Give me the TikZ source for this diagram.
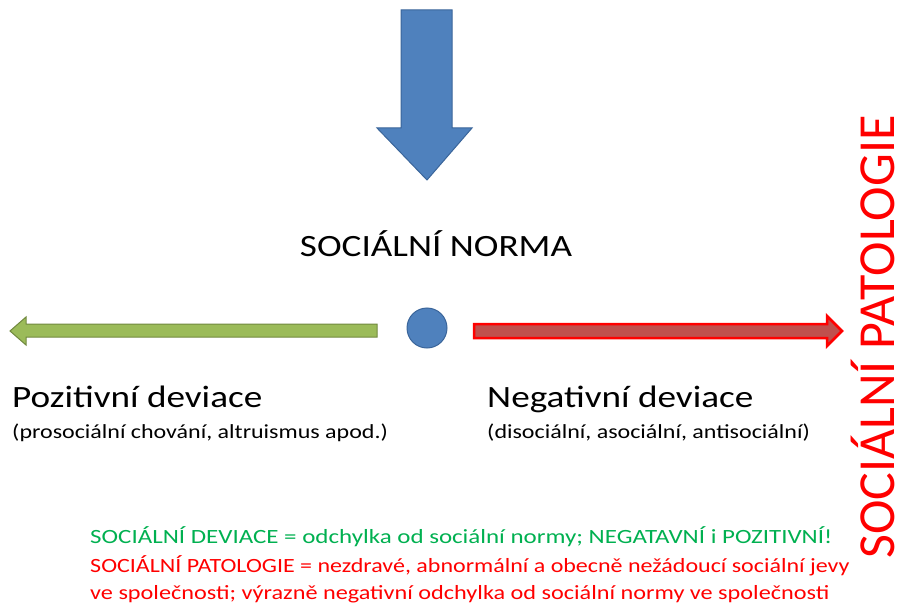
\documentclass[tikz,border=0pt]{standalone}
\usepackage{fontspec}
\setmainfont{Carlito}
\definecolor{bluefill}{HTML}{4F81BD}
\definecolor{blueline}{HTML}{3A659A}
\definecolor{greenfill}{HTML}{9BBB59}
\definecolor{greenline}{HTML}{71893F}
\definecolor{redfill}{HTML}{C0504D}
\definecolor{redline}{HTML}{FF0000}
\definecolor{greentext}{HTML}{00B050}
\begin{document}
\begin{tikzpicture}[x=1pt,y=-1pt,
  txt/.style={inner sep=0pt,anchor=base west,xscale=1.2},
  big/.style={txt,font=\fontsize{31}{36}\selectfont},
  small/.style={txt,font=\fontsize{20}{24}\selectfont},
  note/.style={txt,font=\fontsize{20.2}{26}\selectfont}]
\useasboundingbox (0,0) rectangle (905,607);
% blue down arrow
\draw[blueline,fill=bluefill,line width=1pt,line join=miter]
  (401,10) -- (452,10) -- (452,128) -- (472,128) -- (427,180) -- (377,128) -- (401,128) -- cycle;
\node[big,anchor=base] (norma) at (436,256) {SOCIÁLNÍ NORMA};
% circle
\node[circle,draw=blueline,fill=bluefill,line width=1pt,minimum size=40pt,inner sep=0pt] (dot) at (427,328) {};
% green arrow
\draw[greenline,fill=greenfill,line width=1pt,line join=miter]
  (377,324) -- (26,324) -- (26,317) -- (10,331) -- (26,345) -- (26,337) -- (377,337) -- cycle;
% red arrow
\draw[redline,fill=redfill,line width=2.5pt,line join=miter]
  (474,324) -- (827,324) -- (827,316) -- (842,331) -- (827,346) -- (827,338) -- (474,338) -- cycle;
\node[big] (poz) at (12,407) {Pozitivní deviace};
\node[small] (pozs) at (12,438) {(prosociální chování, altruismus apod.)};
\node[big] (neg) at (487,407) {Negativní deviace};
\node[small] (negs) at (487,438) {(disociální, asociální, antisociální)};
\node[note,text=greentext,xscale=1.03] (l1) at (90,543) {SOCIÁLNÍ DEVIACE = odchylka od sociální normy; NEGATAVNÍ i POZITIVNÍ!};
\node[note,text=redline,xscale=0.99] (l2) at (90,572) {SOCIÁLNÍ PATOLOGIE = nezdravé, abnormální a obecně nežádoucí sociální jevy};
\node[note,text=redline] (l3) at (90,599) {ve společnosti; výrazně negativní odchylka od sociální normy ve společnosti};
\node[inner sep=0pt,anchor=base,rotate=90,text=redline,font=\fontsize{52}{60}\selectfont] (pat) at (894,337) {SOCIÁLNÍ PATOLOGIE};
\end{tikzpicture}
\end{document}
